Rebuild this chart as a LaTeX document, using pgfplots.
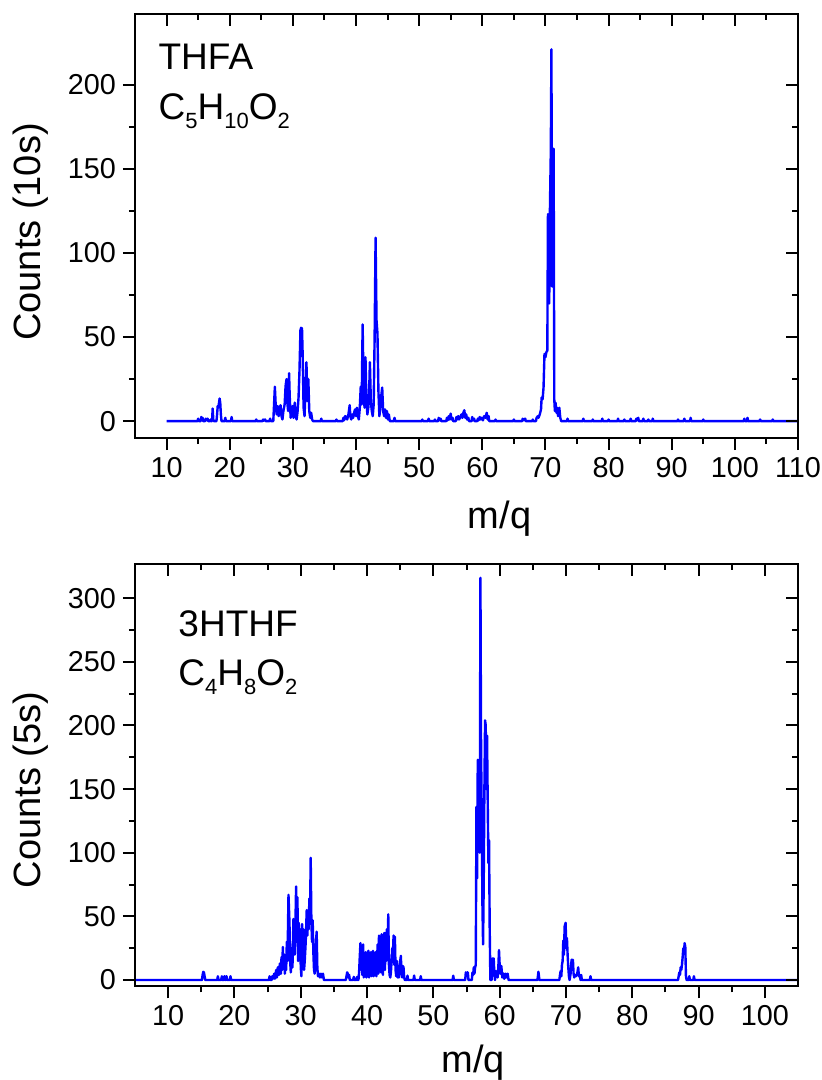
\documentclass[border=0pt]{standalone}
\usepackage{fontspec}
\setmainfont{Liberation Sans}
\usepackage{pgfplots}
\pgfplotsset{compat=1.18}

\newcommand\sub[1]{\raisebox{-4.5pt}{\fontsize{11}{11}\selectfont #1}}

\pgfplotsset{
  spec/.style={
    scale only axis, width=331.5pt,
    axis line style={line width=1pt},
    major tick length=6pt, minor tick length=3pt,
    every tick/.style={black, line width=1pt},
    tick label style={font=\fontsize{14.4}{14.4}\selectfont},
    label style={font=\fontsize{19}{19}\selectfont},
    /pgf/number format/assume math mode=true,
    minor x tick num=1, minor y tick num=1,
  },
  outer/.style={spec, tick align=outside, xtick pos=left, ytick pos=left},
  inner/.style={spec, tick align=inside, xtick pos=right, ytick pos=right,
    xticklabels={}, yticklabels={}},
  toppanel/.style={xmin=5, xmax=110, ymin=-10, ymax=242, height=212pt,
    xtick={10,20,...,110}, ytick={0,50,...,200},
    anchor=north west, at={(0pt,0pt)}},
  botpanel/.style={xmin=5, xmax=105, ymin=-5, ymax=327, height=211.3pt,
    xtick={10,20,...,100}, ytick={0,50,...,300},
    anchor=north west, at={(0pt,-274.9pt)}},
  spectrum/.style={blue, line width=1.2pt, line join=round},
}

\begin{document}
\begin{tikzpicture}

% THFA, 10 s
\begin{axis}[outer, toppanel,
    xlabel={m/q}, ylabel={Counts (10s)},
    xlabel style={at={(axis description cs:0.55,-0.19)}, anchor=center},
    ylabel style={at={(axis description cs:-0.158,0.486)}, anchor=center},
]
\addplot[spectrum] coordinates {
(10,0)(14.9,0)(15.0,1.5)(15.1,0)(15.4,0)(15.5,2.5)(15.6,1)(15.7,2)(15.8,0)(16.1,0)(16.2,1.5)(16.3,0.5)(16.5,1.5)(16.6,0)
(16.9,0)(17.0,1)(17.1,0)(17.2,0)(17.3,7.5)(17.4,1)(17.5,0)(17.9,0)(18.0,4)(18.1,9)(18.2,8)(18.4,13.5)(18.5,11)(18.6,4)(18.7,0)
(19.2,0)(19.3,2)(19.4,0)(20.2,0)(20.3,2.5)(20.4,0)
(24.1,0)(24.2,1)(24.3,0)(25.2,0)(25.3,1)(25.4,0.3)(25.6,1)(25.7,0)(26.3,0)(26.4,1.5)(26.5,0)
(26.9,0)(27.0,8)(27.15,20.5)(27.3,8)(27.45,4)(27.6,9)(27.75,3)(27.9,7)(28.05,9.5)(28.2,3)(28.35,1)(28.5,6)(28.7,10)
(28.85,21)(29.0,25)(29.1,12)(29.25,6)(29.4,28.5)(29.5,15)(29.65,2)(29.8,6)(29.95,9)(30.1,2)(30.2,5)(30.3,11)(30.45,3)
(30.6,1)(30.75,6)(30.9,14)(31.05,30)(31.2,54)(31.3,55.5)(31.45,55)(31.55,40)(31.7,8)(31.85,3)(32.0,18)(32.15,35)(32.3,12)
(32.45,25)(32.6,6)(32.75,2)(32.9,5)(33.05,1)(33.2,0)(34.4,0)(34.5,1.5)(34.6,0)
(36.8,0)(36.9,1)(37.0,0)(37.9,0)(38.0,2)(38.1,0.5)(38.3,3)(38.5,2)(38.6,1)(38.8,4)(39.0,9.5)(39.1,3)(39.25,1)(39.4,4)
(39.55,2)(39.7,5)(39.85,7)(40.0,3)(40.15,8)(40.3,3)(40.45,1)(40.6,8)(40.75,20.5)(40.9,10)(41.05,57.5)(41.2,20)(41.35,8)
(41.5,38)(41.65,12)(41.8,4)(41.95,8)(42.1,20)(42.2,35)(42.35,12)(42.5,6)(42.65,3)(42.8,10)(42.95,50)(43.1,109)(43.25,60)
(43.4,52)(43.55,18)(43.7,3)(43.85,8)(44.0,15)(44.15,20)(44.3,6)(44.45,3)(44.6,7)(44.75,2)(44.9,6)(45.05,1)(45.2,4)(45.35,0)
(46.0,0)(46.1,2)(46.2,0)
(50.4,0)(50.5,1)(50.6,0)(51.4,0)(51.5,1.5)(51.6,0)(52.4,0)(52.5,1)(52.6,0)(53.0,0)(53.1,2)(53.2,0.5)(53.4,1.5)(53.5,0)
(54.3,0)(54.4,2)(54.5,0.5)(54.7,3)(54.8,1)(55.0,4.5)(55.1,1)(55.3,2)(55.4,0)(55.8,0)(55.9,2.5)(56.0,1)(56.2,3)(56.3,1)
(56.5,2)(56.7,4)(56.85,2)(57.0,5)(57.15,6.5)(57.3,2)(57.45,4)(57.6,1)(57.8,2)(57.9,0)(58.3,0)(58.4,2.5)(58.5,0.5)(58.7,1.5)
(58.8,0)(59.2,0)(59.3,1.5)(59.4,0.5)(59.6,2.5)(59.7,1)(59.9,2)(60.1,0.5)(60.3,3)(60.5,2)(60.7,5)(60.85,1)(61.0,3)(61.1,0)
(62.0,0)(62.1,1)(62.2,0)
(64.9,0)(65.0,1)(65.1,0)(66.3,0)(66.4,1.5)(66.5,0.5)(66.8,1.5)(66.9,0)(67.9,0)(68.0,1)(68.1,0)
(68.5,0)(68.6,2)(68.8,3)(68.9,2)(69.1,4)(69.3,7)(69.4,14)(69.55,13)(69.7,20)(69.85,40)(70.0,38)(70.15,41)(70.3,42)
(70.4,123)(70.5,85)(70.6,70)(70.7,123)(70.85,160)(70.95,221)(71.05,80)(71.15,110)(71.3,162)(71.4,13)(71.5,6)(71.6,11)
(71.75,5)(71.85,8)(72.0,3)(72.2,8)(72.35,2)(72.5,0)(73.4,0)(73.5,1.5)(73.6,0)
(75.9,0)(76.0,1.5)(76.1,0)(77.4,0)(77.5,1)(77.6,0)(78.9,0)(79.0,1.5)(79.1,0)(79.9,0)(80.0,1)(80.1,0)(81.4,0)(81.5,1.5)
(81.6,0)(82.4,0)(82.5,1)(82.6,0)(83.4,0)(83.5,1.5)(83.6,0)(84.3,0)(84.4,1.5)(84.5,0.5)(84.7,2)(84.8,0)(85.4,0)(85.5,1.5)
(85.6,0)(86.2,0)(86.3,1)(86.4,0)(86.9,0)(87.0,1.5)(87.1,0)(90.9,0)(91.0,1)(91.1,0)(91.9,0)(92.0,1.5)(92.1,0)(92.9,0)
(93.0,2)(93.1,0)(94.9,0)(95.0,1)(95.1,0)(101.4,0)(101.5,1.5)(101.6,0)(101.9,0)(102.0,2)(102.1,0)(103.9,0)(104.0,1)
(104.1,0)(105.9,0)(106.0,1)(106.1,0)(110,0)
};
\node[anchor=base west, font=\fontsize{18.5}{18.5}\selectfont, inner sep=0pt]
  at (axis description cs:0.035,0.868) {THFA};
\node[anchor=base west, font=\fontsize{18.5}{18.5}\selectfont, inner sep=0pt]
  at (axis description cs:0.035,0.750) {C\sub{5}H\sub{10}O\sub{2}};
\end{axis}
\begin{axis}[inner, toppanel]
\end{axis}

% 3HTHF, 5 s
\begin{axis}[outer, botpanel,
    xlabel={m/q}, ylabel={Counts (5s)},
    xlabel style={at={(axis description cs:0.51,-0.18)}, anchor=center},
    ylabel style={at={(axis description cs:-0.158,0.465)}, anchor=center},
]
\addplot[spectrum] coordinates {
(5,0)(15.1,0)(15.2,4)(15.3,6.5)(15.4,6)(15.5,3)(15.6,0)(17.4,0)(17.5,3)(17.6,0)(18.0,0)(18.1,3)(18.2,0)(18.4,0)
(18.5,3)(18.6,0)(18.7,0)(18.8,3)(18.9,0)(19.3,0)(19.4,3)(19.5,0)
(25.2,0)(25.3,3)(25.4,0)(25.6,0)(25.7,3)(25.8,1)(26.0,5)(26.1,1)(26.3,8)(26.4,2)(26.55,10)(26.7,4)(26.85,13)(27.0,5)
(27.1,18)(27.2,8)(27.3,26)(27.4,10)(27.5,20)(27.6,5)(27.7,14)(27.8,8)(27.9,30)(28.0,15)(28.15,67)(28.3,45)(28.4,15)
(28.5,6)(28.6,25)(28.75,10)(28.9,48)(29.0,35)(29.1,20)(29.2,45)(29.3,73.5)(29.4,30)(29.5,65)(29.6,15)(29.7,45)(29.8,20)
(29.9,40)(30.0,10)(30.1,3)(30.2,44)(30.3,20)(30.4,40)(30.5,8)(30.6,15)(30.75,30)(30.9,55)(31.0,35)(31.1,52)(31.2,40)
(31.3,64)(31.4,50)(31.5,96)(31.6,47)(31.7,30)(31.8,47)(31.9,22)(32.0,8)(32.1,5)(32.2,15)(32.3,30)(32.4,38)(32.5,10)
(32.6,3)(32.75,5)(32.9,2)(33.05,5)(33.2,2)(33.35,5)(33.5,0)
(36.8,0)(36.9,3)(37.0,6)(37.1,5)(37.2,2)(37.3,4)(37.4,0)(37.9,0)(38.0,2.5)(38.1,0)(38.4,0)(38.5,2.5)(38.6,0)
(38.7,0)(38.8,6)(38.9,18)(39.0,29)(39.1,8)(39.2,25)(39.3,4)(39.4,28)(39.5,2)(39.6,20)(39.7,3)(39.8,22)(39.9,2)(40.0,18)
(40.1,4)(40.2,23)(40.3,2)(40.4,20)(40.5,4)(40.6,22)(40.7,3)(40.8,15)(40.9,23)(41.0,3)(41.1,20)(41.2,6)(41.3,22)(41.4,3)
(41.5,14)(41.6,28)(41.7,5)(41.8,35)(41.9,12)(42.0,32)(42.1,6)(42.2,36)(42.3,15)(42.4,4)(42.5,30)(42.6,37)(42.7,8)
(42.8,37)(42.9,15)(43.0,40)(43.1,20)(43.2,51.7)(43.3,12)(43.4,4)(43.5,2)(43.6,6)(43.7,15)(43.8,25)(43.9,20)(44.0,35)
(44.1,12)(44.2,34)(44.3,8)(44.4,3)(44.5,15)(44.6,2)(44.7,8)(44.8,2)(44.9,10)(45.0,15)(45.1,19)(45.2,5)(45.3,2)(45.4,11)
(45.5,10)(45.6,2)(45.7,0)(46.0,0)(46.1,3.5)(46.2,0)(47.0,0)(47.1,3.5)(47.2,0)(48.0,0)(48.1,3)(48.2,0)
(52.9,0)(53.0,3.4)(53.1,0)(54.8,0)(54.9,6)(55.0,3)(55.1,6)(55.2,6)(55.3,0)(55.8,0)(55.9,6)(56.0,4)(56.1,10)(56.2,5)
(56.3,10)(56.4,12)(56.5,136)(56.6,80)(56.7,173)(56.8,140)(56.9,173)(57.0,100)(57.1,316)(57.2,181)(57.3,126)(57.4,60)
(57.5,28)(57.6,78)(57.7,150)(57.8,204)(57.9,200)(58.0,150)(58.1,192)(58.2,140)(58.3,92)(58.4,110)(58.5,40)(58.6,0)
(58.8,0)(58.9,17)(59.0,10)(59.1,17)(59.2,5)(59.3,0)(59.4,7)(59.5,3)(59.6,7)(59.7,2)(59.8,10)(59.9,23.5)(60.0,12)(60.1,5)
(60.25,11)(60.4,2)(60.6,5)(60.7,1)(60.9,5)(61.0,2)(61.2,5)(61.35,0)
(65.7,0)(65.85,6.5)(66.0,0)
(69.0,0)(69.1,4)(69.2,7)(69.3,3)(69.4,12)(69.5,15)(69.6,31)(69.7,20)(69.8,42)(69.95,45)(70.05,25)(70.15,33)(70.25,20)
(70.35,10)(70.45,3)(70.55,0)(70.7,5)(70.85,16)(70.95,10)(71.05,16)(71.15,5)(71.25,2)(71.35,4)(71.5,3)(71.7,5)(71.85,10)
(71.95,3)(72.1,4)(72.2,0)(72.3,4)(72.4,0)(73.6,0)(73.7,3)(73.8,0)
(86.9,0)(87.0,3)(87.1,6)(87.2,4)(87.3,10)(87.4,8)(87.5,12)(87.6,18)(87.7,25)(87.8,22)(87.9,29)(88.0,26)(88.1,3)(88.2,0)
(88.5,0)(88.6,3)(88.7,0)(89.2,0)(89.3,3)(89.4,0)(105,0)
};
\node[anchor=base west, font=\fontsize{18.5}{18.5}\selectfont, inner sep=0pt]
  at (axis description cs:0.065,0.827) {3HTHF};
\node[anchor=base west, font=\fontsize{18.5}{18.5}\selectfont, inner sep=0pt]
  at (axis description cs:0.065,0.713) {C\sub{4}H\sub{8}O\sub{2}};
\end{axis}
\begin{axis}[inner, botpanel]
\end{axis}

\pgfresetboundingbox
\path (-67.5pt,7pt) rectangle (343.5pt,-533pt);
\end{tikzpicture}
\end{document}
